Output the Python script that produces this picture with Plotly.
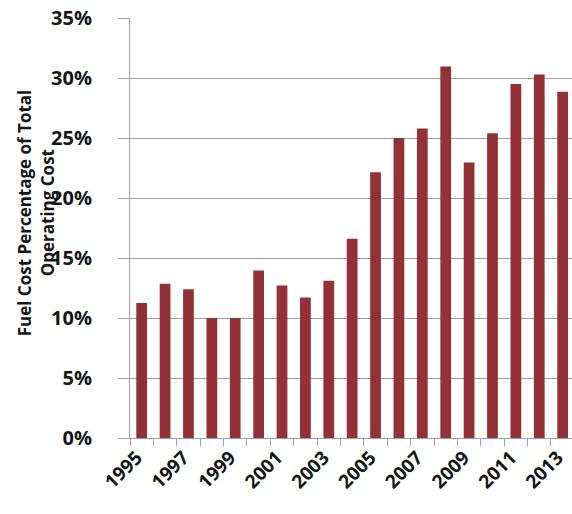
import plotly.graph_objects as go

years = list(range(1995, 2014))
fuel_pct = [11.25, 12.85, 12.4, 10.0, 10.0, 13.95, 12.7, 11.7, 13.1, 16.6,
            22.15, 25.0, 25.8, 30.95, 22.95, 25.4, 29.5, 30.3, 28.85]
y_ticks = [0, 5, 10, 15, 20, 25, 30, 35]
y_labels = [f"<b>{v}%</b>" for v in y_ticks]
x_label_years = [y for y in years if y % 2 == 1]
title_lines = ["Fuel Cost Percentage of Total", "Operating Cost"]

BAR = "#923236"
GRID = "#a0a0a0"
FONT = "Open Sans"
TXT = "#161616"

L, R, T, B, W, H = 130, 0, 18, 76, 572, 514
PW = W - L - R

fig = go.Figure()
fig.add_trace(go.Bar(x=years, y=fuel_pct, marker_color=BAR, marker_line_width=0))

fig.update_layout(
    width=W, height=H,
    margin=dict(l=L, r=R, t=T, b=B, autoexpand=False),
    paper_bgcolor="white", plot_bgcolor="white",
    bargap=0.54,
    showlegend=False,
    font=dict(family=FONT, color=TXT),
)
fig.update_xaxes(
    automargin=False,
    range=[1994.5, 2013.4],
    tickvals=x_label_years,
    ticktext=[f"<b>{y}</b>" for y in x_label_years],
    tickangle=-45,
    ticks="",
    ticklabeloverflow="allow",
    ticklabelshift=-5,
    tickfont=dict(family=FONT, size=19, color=TXT),
    showgrid=False,
    showline=True, linecolor=GRID, linewidth=1,
    minor=dict(ticks="outside", tickvals=[y - 0.5 for y in years],
               ticklen=7, tickcolor=GRID, showgrid=False),
    zeroline=False,
)
fig.update_yaxes(
    automargin=False,
    range=[0, 35],
    tickvals=y_ticks,
    ticktext=y_labels,
    ticks="outside", ticklen=11, tickcolor=GRID,
    ticklabelstandoff=22,
    tickfont=dict(family=FONT, size=20, color=TXT),
    showgrid=True, gridcolor=GRID, gridwidth=1,
    showline=True, linecolor=GRID, linewidth=1,
    zeroline=False,
)
for px, line in zip([24, 47], title_lines):
    fig.add_annotation(
        text=f"<b>{line}</b>",
        xref="paper", yref="paper", x=(px - L) / PW, y=0.535,
        xanchor="center", yanchor="middle",
        textangle=-90, showarrow=False,
        font=dict(family=FONT, size=17, color=TXT),
    )

fig.write_html("out.html", config={"displayModeBar": False},
               post_script="document.body.style.margin='0';")
